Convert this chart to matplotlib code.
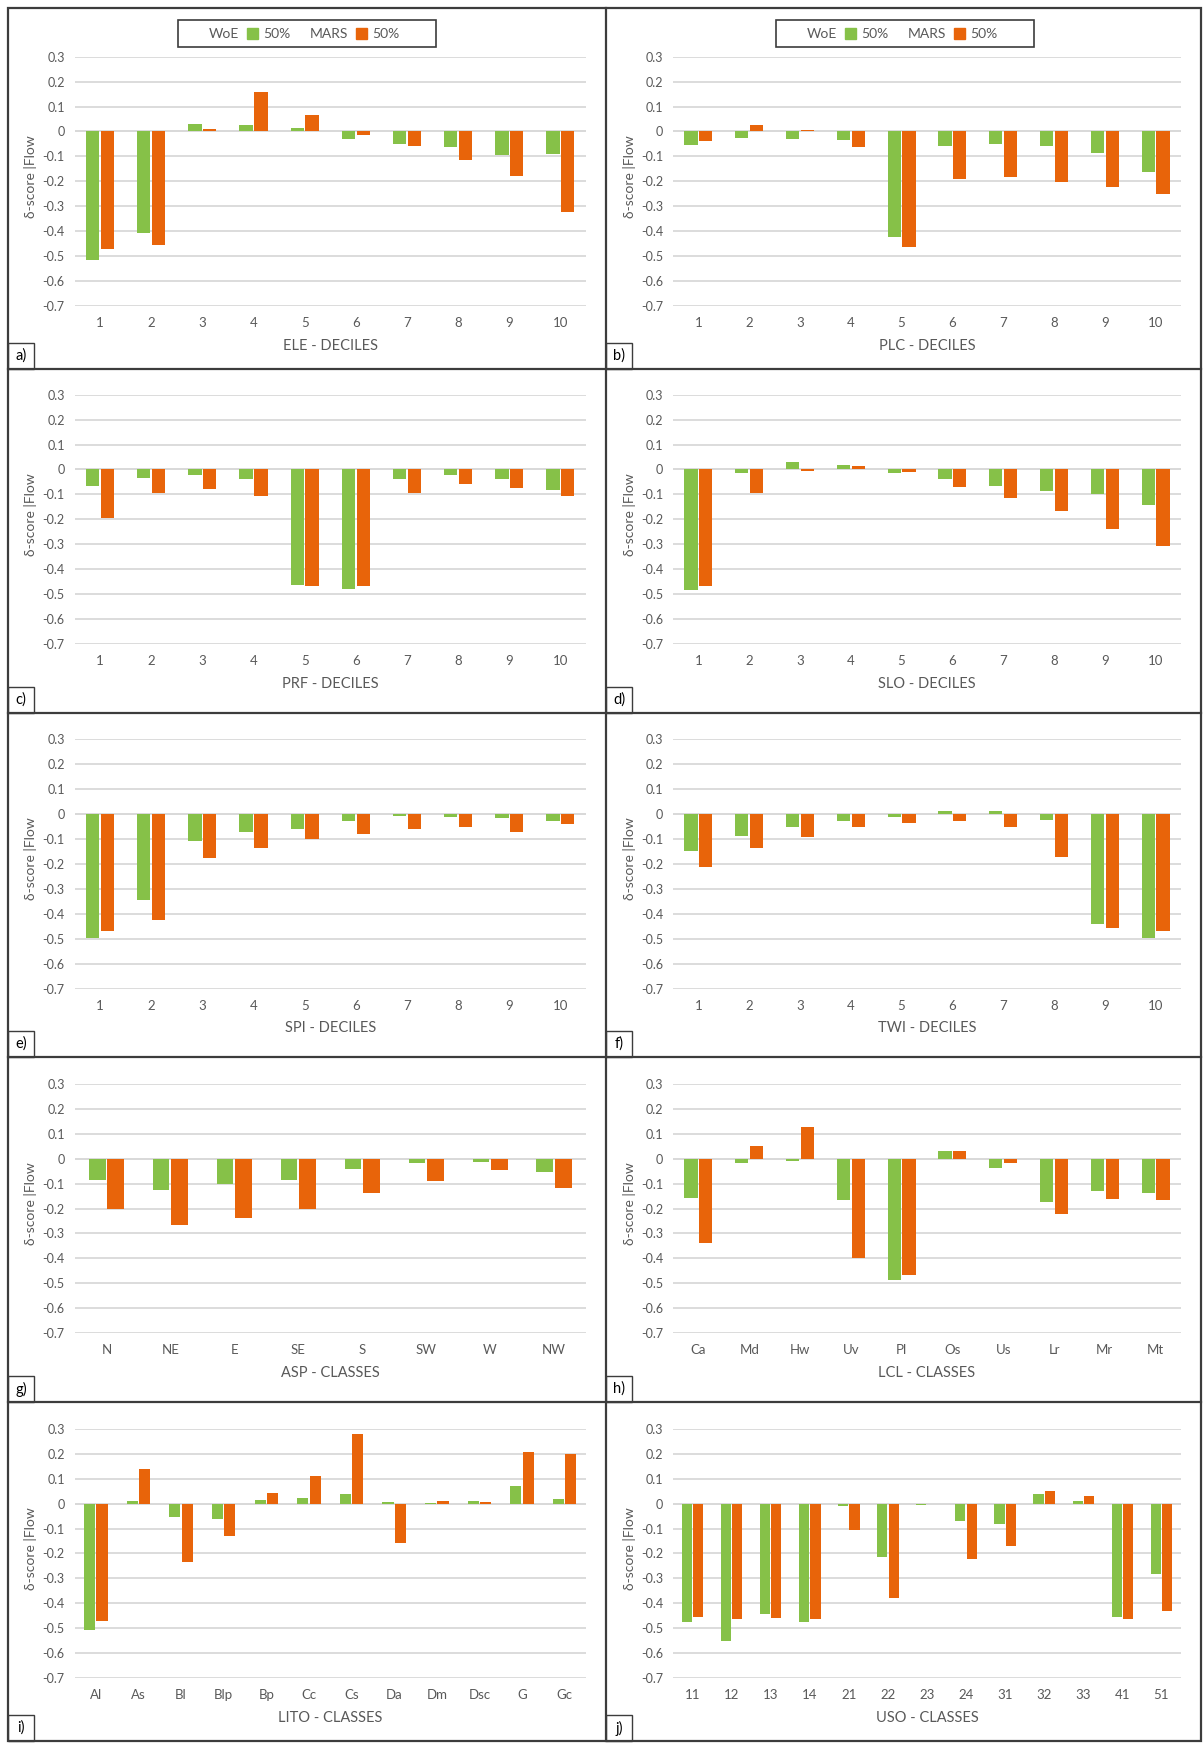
import numpy as np
import matplotlib.pyplot as plt

plt.rcParams['font.family'] = ['Lato', 'DejaVu Sans']

W, H = 1203, 1743

GREEN = '#86c148'
ORANGE = '#e8640a'
GRID = '#d9d9d9'
TXT = '#595959'
FRAME = '#3c3c3c'

# --- data: delta-score | Flow, WoE 50% and MARS 50% ---
ele_cats = ['1', '2', '3', '4', '5', '6', '7', '8', '9', '10']
ele_woe = [-0.518, -0.408, 0.029, 0.027, 0.013, -0.029, -0.052, -0.063, -0.094, -0.091]
ele_mars = [-0.473, -0.457, 0.009, 0.158, 0.067, -0.015, -0.059, -0.114, -0.177, -0.325]

plc_cats = ele_cats
plc_woe = [-0.055, -0.027, -0.029, -0.036, -0.422, -0.060, -0.050, -0.060, -0.087, -0.161]
plc_mars = [-0.039, 0.025, 0.007, -0.062, -0.462, -0.190, -0.181, -0.203, -0.224, -0.252]

prf_cats = ele_cats
prf_woe = [-0.068, -0.036, -0.021, -0.037, -0.463, -0.482, -0.040, -0.024, -0.039, -0.083]
prf_mars = [-0.194, -0.094, -0.079, -0.107, -0.466, -0.469, -0.094, -0.059, -0.074, -0.108]

slo_cats = ele_cats
slo_woe = [-0.483, -0.016, 0.028, 0.016, -0.013, -0.037, -0.068, -0.086, -0.098, -0.142]
slo_mars = [-0.469, -0.096, -0.005, 0.013, -0.012, -0.071, -0.116, -0.166, -0.238, -0.307]

spi_cats = ele_cats
spi_woe = [-0.499, -0.343, -0.106, -0.071, -0.060, -0.029, -0.009, -0.011, -0.017, -0.029]
spi_mars = [-0.470, -0.427, -0.175, -0.137, -0.098, -0.079, -0.059, -0.052, -0.070, -0.041]

twi_cats = ele_cats
twi_woe = [-0.149, -0.086, -0.052, -0.029, -0.013, 0.012, 0.012, -0.024, -0.440, -0.499]
twi_mars = [-0.212, -0.137, -0.090, -0.051, -0.035, -0.028, -0.050, -0.173, -0.456, -0.471]

asp_cats = ['N', 'NE', 'E', 'SE', 'S', 'SW', 'W', 'NW']
asp_woe = [-0.087, -0.126, -0.103, -0.087, -0.040, -0.016, -0.012, -0.052]
asp_mars = [-0.203, -0.268, -0.240, -0.202, -0.137, -0.088, -0.044, -0.116]

lcl_cats = ['Ca', 'Md', 'Hw', 'Uv', 'Pl', 'Os', 'Us', 'Lr', 'Mr', 'Mt']
lcl_woe = [-0.158, -0.019, -0.011, -0.167, -0.486, 0.029, -0.037, -0.174, -0.131, -0.137]
lcl_mars = [-0.340, 0.051, 0.126, -0.400, -0.469, 0.029, -0.016, -0.221, -0.161, -0.166]

lito_cats = ['Al', 'As', 'Bl', 'Blp', 'Bp', 'Cc', 'Cs', 'Da', 'Dm', 'Dsc', 'G', 'Gc']
lito_woe = [-0.507, 0.012, -0.055, -0.062, 0.015, 0.023, 0.037, 0.008, 0.004, 0.011, 0.072, 0.019]
lito_mars = [-0.471, 0.139, -0.233, -0.130, 0.041, 0.111, 0.280, -0.158, 0.009, 0.005, 0.207, 0.199]

uso_cats = ['11', '12', '13', '14', '21', '22', '23', '24', '31', '32', '33', '41', '51']
uso_woe = [-0.477, -0.553, -0.443, -0.475, -0.009, -0.214, -0.004, -0.071, -0.083, 0.040, 0.012, -0.454, -0.284]
uso_mars = [-0.455, -0.465, -0.459, -0.465, -0.107, -0.379, -0.003, -0.222, -0.170, 0.050, 0.029, -0.463, -0.430]

panels = [
    ('a)', 'ELE - DECILES', ele_cats, ele_woe, ele_mars),
    ('b)', 'PLC - DECILES', plc_cats, plc_woe, plc_mars),
    ('c)', 'PRF - DECILES', prf_cats, prf_woe, prf_mars),
    ('d)', 'SLO - DECILES', slo_cats, slo_woe, slo_mars),
    ('e)', 'SPI - DECILES', spi_cats, spi_woe, spi_mars),
    ('f)', 'TWI - DECILES', twi_cats, twi_woe, twi_mars),
    ('g)', 'ASP - CLASSES', asp_cats, asp_woe, asp_mars),
    ('h)', 'LCL - CLASSES', lcl_cats, lcl_woe, lcl_mars),
    ('i)', 'LITO - CLASSES', lito_cats, lito_woe, lito_mars),
    ('j)', 'USO - CLASSES', uso_cats, uso_woe, uso_mars),
]

# layout in pixels (from top-left)
col_x = [(74.5, 586), (673, 1181)]
row_y = [(56.7, 305.8), (394.7, 643.8), (739.4, 988.5), (1084, 1333), (1428.9, 1677.9)]
row_bottom = [369, 713, 1057, 1402, 1741]
col_left = [8, 606]
X_RIGHT = 1201


def px_rect(x0, y0, x1, y1):
    return [x0 / W, 1 - y1 / H, (x1 - x0) / W, (y1 - y0) / H]


fig = plt.figure(figsize=(W / 100, H / 100), dpi=100)
fig.patch.set_facecolor('white')

# overlay in pixel units for frames, legend, panel tags
ov = fig.add_axes([0, 0, 1, 1], zorder=5)
ov.set_xlim(0, W)
ov.set_ylim(H, 0)
ov.axis('off')

width = 0.26
off = 0.145

for i, (tag, xlab, cats, woe, mars) in enumerate(panels):
    r, c = divmod(i, 2)
    x0, x1 = col_x[c]
    y0, y1 = row_y[r]
    ax = fig.add_axes(px_rect(x0, y0, x1, y1))
    ax.set_facecolor('none')
    x = np.arange(len(cats))
    ax.bar(x - off, woe, width, color=GREEN, zorder=3)
    ax.bar(x + off, mars, width, color=ORANGE, zorder=3)
    ax.set_xlim(-0.5, len(cats) - 0.5)
    ax.set_ylim(-0.7, 0.3)
    yt = np.round(np.arange(-0.7, 0.31, 0.1), 1)
    ax.set_yticks(yt)
    ax.set_yticklabels(['0' if v == 0 else f'{v:g}' for v in yt])
    ax.grid(axis='y', color=GRID, linewidth=1.3, zorder=0)
    ax.axhline(0, color=GRID, linewidth=1.4, zorder=1)
    for s in ax.spines.values():
        s.set_visible(False)
    ax.set_xticks(x)
    ax.set_xticklabels(cats)
    ax.tick_params(axis='x', length=0, pad=8, labelsize=9.5, labelcolor=TXT)
    ax.tick_params(axis='y', length=0, pad=7, labelsize=9, labelcolor=TXT)
    ax.annotate(xlab, xy=(0.5, 0), xycoords='axes fraction', xytext=(0, -40),
                textcoords='offset pixels', ha='center', va='center',
                fontsize=10.5, color=TXT)
    ax.set_ylabel('δ-score |Flow', fontsize=10, color=TXT)
    ax.yaxis.set_label_coords(-44.0 / (x1 - x0), 0.52)
    ax.yaxis.label.set_va('center')

    # panel tag box in bottom-left corner
    bx = col_left[c]
    by = row_bottom[r]
    ov.add_patch(plt.Rectangle((bx, by - 26), 26, 26, fill=False,
                               edgecolor=FRAME, linewidth=1.0))
    ov.text(bx + 13, by - 13, tag, ha='center', va='center', fontsize=10.5, color='black')

# legends in the top row
for dx in (0, 598):
    ov.add_patch(plt.Rectangle((178 + dx, 20), 258, 27, fill=False,
                               edgecolor=FRAME, linewidth=1.2))
    ov.text(209 + dx, 33.5, 'WoE', ha='left', va='center', fontsize=10, color=TXT)
    ov.add_patch(plt.Rectangle((247 + dx, 28), 11, 11, color=GREEN))
    ov.text(263 + dx, 33.5, '50%', ha='left', va='center', fontsize=10, color=TXT)
    ov.text(310 + dx, 33.5, 'MARS', ha='left', va='center', fontsize=10, color=TXT)
    ov.add_patch(plt.Rectangle((356 + dx, 28), 11, 11, color=ORANGE))
    ov.text(372 + dx, 33.5, '50%', ha='left', va='center', fontsize=10, color=TXT)

# outer frame and grid of panel dividers
ov.add_patch(plt.Rectangle((8, 8), X_RIGHT - 8, 1741 - 8, fill=False,
                           edgecolor=FRAME, linewidth=1.6))
ov.plot([606, 606], [8, 1741], color=FRAME, linewidth=1.6)
for yb in row_bottom[:-1]:
    ov.plot([8, X_RIGHT], [yb, yb], color=FRAME, linewidth=1.6)

fig.savefig('out.png', dpi=100)
